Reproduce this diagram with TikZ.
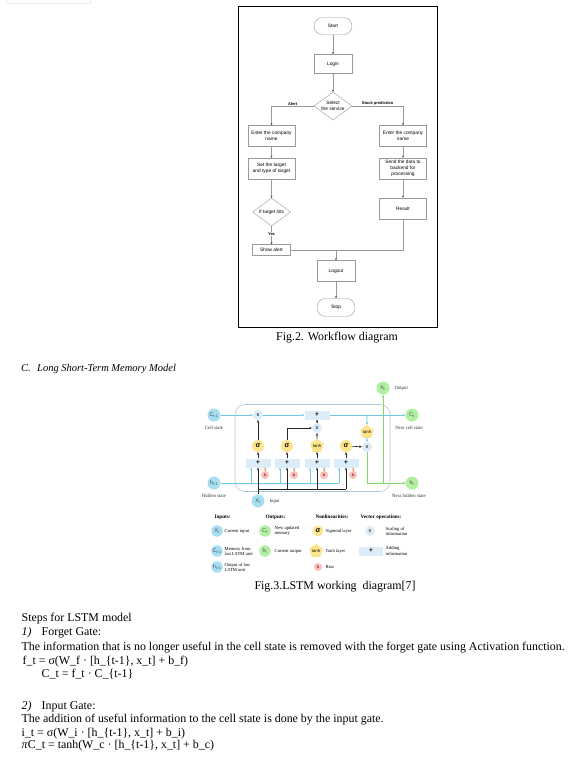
\documentclass[tikz,border=0pt]{standalone}
\usepackage{fontspec}
\setmainfont{Liberation Serif}
\setsansfont{Liberation Sans}
\usepackage{xcolor}
\usetikzlibrary{arrows.meta, positioning, shapes.geometric}

\definecolor{flowgray}{HTML}{9A9A9A}
\definecolor{incol}{HTML}{A6DFF2}
\definecolor{outcol}{HTML}{B2EFA2}
\definecolor{gatecol}{HTML}{FDE48A}
\definecolor{opcol}{HTML}{DCEDF9}
\definecolor{biascol}{HTML}{F6C0B8}
\definecolor{cellcol}{HTML}{6EC6E9}
\definecolor{greencol}{HTML}{7FD86B}
\definecolor{framecol}{HTML}{A9CBD8}
\definecolor{biasarrcol}{HTML}{E8874F}

\begin{document}
\begin{tikzpicture}[x=1pt, y=-1pt,
    every node/.style={font=\fontsize{5}{6}\selectfont},
    fbox/.style={draw=flowgray, line width=0.4pt, fill=white, minimum width=47pt, minimum height=21pt, align=center, inner sep=0.5pt, font=\sffamily\fontsize{4.8}{5.8}\selectfont},
    pill/.style={fbox, rounded corners=8.5pt, minimum width=38pt, minimum height=17pt},
    dia/.style={fbox, diamond, aspect=1.4, minimum width=38pt, minimum height=28pt, inner sep=0pt},
    fline/.style={draw=flowgray, line width=0.4pt},
    farr/.style={fline, -{Stealth[length=2.2pt, width=2pt, black!70]}},
    flab/.style={font=\sffamily\bfseries\fontsize{4}{4}\selectfont, inner sep=0.4pt},
    incirc/.style={circle, fill=incol, minimum size=13pt, inner sep=0pt, text=black!70, font=\sffamily\fontsize{5.5}{6}\selectfont},
    outcirc/.style={incirc, fill=outcol},
    sig/.style={circle, fill=gatecol, minimum size=12pt, inner sep=0pt, font=\sffamily\bfseries\fontsize{7}{7}\selectfont},
    tanhnode/.style={regular polygon, regular polygon sides=5, fill=gatecol, minimum size=14pt, inner sep=0pt, font=\sffamily\fontsize{4.2}{4.2}\selectfont},
    mul/.style={circle, fill=opcol, minimum size=10pt, inner sep=0pt, font=\sffamily\fontsize{5.5}{5.5}\selectfont},
    addbox/.style={rectangle, fill=opcol, minimum width=25pt, minimum height=9pt, inner sep=0pt, font=\sffamily\bfseries\fontsize{6.5}{6.5}\selectfont},
    bias/.style={circle, fill=biascol, minimum size=8pt, inner sep=0pt, text=red!50!black, font=\sffamily\fontsize{4}{4}\selectfont},
    small/.style={minimum size=11.5pt},
    lbl/.style={text=black!80, font=\fontsize{4.8}{5.6}\selectfont},
    lhead/.style={anchor=west, font=\bfseries\fontsize{5.2}{6}\selectfont},
    ltxt/.style={anchor=west, align=left, inner sep=0.5pt, font=\fontsize{4.6}{5.2}\selectfont},
    cline/.style={draw=cellcol, line width=0.7pt},
    carr/.style={cline, -{Stealth[length=2.6pt, width=2.4pt]}},
    blk/.style={draw=black!85, line width=0.6pt},
    barr/.style={blk, -{Stealth[length=2.6pt, width=2.4pt]}},
    garr/.style={draw=greencol, line width=0.8pt, -{Stealth[length=2.8pt, width=2.6pt]}},
    biasarr/.style={draw=biasarrcol, line width=0.5pt, -{Stealth[length=2pt, width=2pt]}},
    txt/.style={anchor=base west, inner sep=0pt, font=\fontsize{11.9}{13}\selectfont},
    capt/.style={anchor=base, inner sep=0pt, font=\fontsize{11.9}{13}\selectfont},
]
\useasboundingbox (0,0) rectangle (582,769);
\fill[white] (0,0) rectangle (582,769);
\draw[black!8] (6,0) -- (6,3) -- (90,3) -- (90,0);

\draw[line width=0.8pt] (238,6) rectangle (437,327);

\node[pill] (start) at (333,26) {Start};
\node[fbox, minimum width=38pt, minimum height=19pt] (login) at (333,64) {Login};
\node[dia] (svc) at (333,106) {Select\\the service};
\node[fbox] (entA) at (271.5,136) {Enter the company\\name};
\node[fbox] (entB) at (403,136) {Enter the company\\name};
\node[fbox] (setA) at (271.5,168.5) {Set the target\\and type of target};
\node[fbox] (sendB) at (403,168.5) {Send the data to\\backend for\\processing};
\node[dia] (hit) at (271.5,212) {If target hits};
\node[fbox] (resB) at (403,208.5) {Result};
\node[fbox, minimum width=38pt, minimum height=11pt] (alrt) at (271.5,250) {Show alert};
\node[fbox, minimum width=38pt, minimum height=21pt] (logout) at (336,271) {Logout};
\node[pill, minimum height=18pt] (stop) at (336,307.5) {Stop};

\draw[farr] (start) -- (login);
\draw[farr] (login) -- (svc);
\draw[farr] (svc.west) -| node[flab, pos=0.25, above] {Alert} (entA);
\draw[farr] (svc.east) -| node[flab, pos=0.25, above] {Stock prediction} (entB);
\draw[farr] (entA) -- (setA);
\draw[farr] (setA) -- (hit);
\draw[farr] (hit) -- node[flab, fill=white, pos=0.42] {Yes} (alrt);
\draw[farr] (entB) -- (sendB);
\draw[farr] (sendB) -- (resB);
\coordinate (mrg) at (logout.north |- alrt);
\draw[fline] (alrt) -| (resB);
\draw[farr] (mrg) -- (logout);
\draw[farr] (logout) -- (stop);

\node[capt] (cap2) at (337,340) {Fig.2. Workflow diagram};

\node[anchor=base west, inner sep=0pt, font=\itshape\fontsize{10.5}{12}\selectfont] (secC) at (21,371.5) {C.};
\node[anchor=base west, inner sep=0pt, font=\itshape\fontsize{10.5}{12}\selectfont] (secT) at (37,371.5) {Long Short-Term Memory Model};

\node[draw=framecol, line width=0.6pt, rounded corners=10pt, minimum width=155pt, minimum height=87pt] (cellbox) at (312.5,448) {};

\node[incirc] (ctm1) at (214,415) {C\textsubscript{t-1}};
\node[lbl] at (214,428) {Cell state};
\node[incirc] (htm1) at (214,483) {h\textsubscript{t-1}};
\node[lbl] at (214,496) {Hidden state};
\node[outcirc] (hout) at (383,388) {h\textsubscript{t}};
\node[lbl, anchor=west] at (391,388) {Output};
\node[outcirc] (ct) at (412,415) {C\textsubscript{t}};
\node[lbl] at (409,428) {Next cell state};
\node[outcirc] (ht) at (412,483) {h\textsubscript{t}};
\node[lbl] at (409,496) {Next hidden state};

\node[mul] (mulf) at (258,415) {x};
\node[addbox] (addc) at (317,415) {+};
\node[mul] (muli) at (317,428) {x};
\node[tanhnode] (tanhO) at (367,432) {tanh};
\node[mul] (mulo) at (367,447) {x};

\node[sig] (sig1) at (258,446) {σ};
\node[sig] (sig2) at (287,446) {σ};
\node[tanhnode] (tanhC) at (317,446) {tanh};
\node[sig] (sig3) at (346,446) {σ};

\foreach \i/\x in {1/258, 2/287, 3/317, 4/346} {
  \node[addbox] (add\i) at (\x,463) {+};
  \node[bias] (b\i) at (\x+7,475) {b};
  \draw[biasarr] (b\i) -- (b\i |- add\i.south);
}

\coordinate (xbus) at (258,489);
\node[incirc] (xt) at (258,501) {X\textsubscript{t}};
\node[lbl, anchor=west] at (266,501) {Input};

\draw[carr] (ctm1) -- (mulf);
\draw[carr] (mulf) -- (addc);
\draw[carr] (addc) -- (ct);
\draw[carr] (tanhO |- addc) -- (tanhO);
\draw[carr] (tanhO) -- (mulo);

\draw[cline] (htm1) -- ([xshift=-7pt]add4.south |- htm1);
\foreach \i in {1,...,4}
  \draw[carr] ([xshift=-7pt]add\i.south |- htm1) -- ([xshift=-7pt]add\i.south);

\draw[barr] (xt) -- (add1);
\draw[blk] (xbus) -- (add4 |- xbus);
\foreach \i in {2,3,4}
  \draw[barr] (add\i |- xbus) -- (add\i);

\draw[barr] (add1) -- (sig1);
\draw[barr] (sig1) -- (mulf);
\draw[barr] (add2) -- (sig2);
\draw[barr] (sig2) |- (muli);
\draw[barr] (add3) -- (tanhC);
\draw[barr] (tanhC) -- (muli);
\draw[barr] (muli) -- (addc);
\draw[barr] (add4) -- (sig3);
\draw[barr] (sig3) -- (mulo);

\draw[garr] (mulo) |- (ht);
\draw[garr] (hout |- ht) -- (hout);

\node[lhead] at (211,517) {Inputs:};
\node[lhead] at (262,517) {Outputs:};
\node[lhead] at (312,517) {Nonlinearities:};
\node[lhead] at (357,517) {Vector operations:};

\node[incirc, small] (lgx) at (217,531) {X\textsubscript{t}};
\node[ltxt] at (224,531) {Current input};
\node[incirc, small] (lgc) at (217,551) {C\textsubscript{t-1}};
\node[ltxt] at (224,551) {Memory from\\last LSTM unit};
\node[incirc, small] (lgh) at (217,567) {h\textsubscript{t-1}};
\node[ltxt] at (224,567) {Output of last\\LSTM unit};

\node[outcirc, small] (lgct) at (265,531) {C\textsubscript{t}};
\node[ltxt] at (274,531) {New updated\\memory};
\node[outcirc, small] (lght) at (265,551) {h\textsubscript{t}};
\node[ltxt] at (274,551) {Current output};

\node[sig, minimum size=10.5pt] (lgs) at (318,531) {σ};
\node[ltxt] at (325,531) {Sigmoid layer};
\node[tanhnode, minimum size=12pt] (lgt) at (316,551) {tanh};
\node[ltxt] at (325,551) {Tanh layer};
\node[bias] (lgb) at (318,567) {b};
\node[ltxt] at (325,567) {Bias};

\node[mul] (lgm) at (370,531) {x};
\node[ltxt] at (385,531) {Scaling of\\information};
\node[addbox, minimum width=24pt] (lga) at (371,551) {+};
\node[ltxt] at (385,551) {Adding\\information};

\node[capt] (cap3) at (335,589) {Fig.3.LSTM working\ \ diagram[7]};

\node[txt] at (21.5,621.5) {Steps for LSTM model};
\node[txt] at (21.5,635.5) {\textit{1)}};
\node[txt] at (41.5,635.5) {Forget Gate:};
\node[txt] at (21.5,650) {The information that is no longer useful in the cell state is removed with the forget gate using Activation function.};
\node[txt] at (22.5,664) {f\_t = σ(W\_f · [h\_\{t-1\}, x\_t] + b\_f)};
\node[txt] at (41.5,677) {C\_t = f\_t · C\_\{t-1\}};
\node[txt] at (21.5,709.5) {\textit{2)}};
\node[txt] at (41.5,709.5) {Input Gate:};
\node[txt] at (21.5,722.5) {The addition of useful information to the cell state is done by the input gate.};
\node[txt] at (21.5,736) {i\_t = σ(W\_i · [h\_\{t-1\}, x\_t] + b\_i)};
\node[txt] at (21.5,748.5) {\textit{π}C\_t = tanh(W\_c · [h\_\{t-1\}, x\_t] + b\_c)};
\end{tikzpicture}
\end{document}
